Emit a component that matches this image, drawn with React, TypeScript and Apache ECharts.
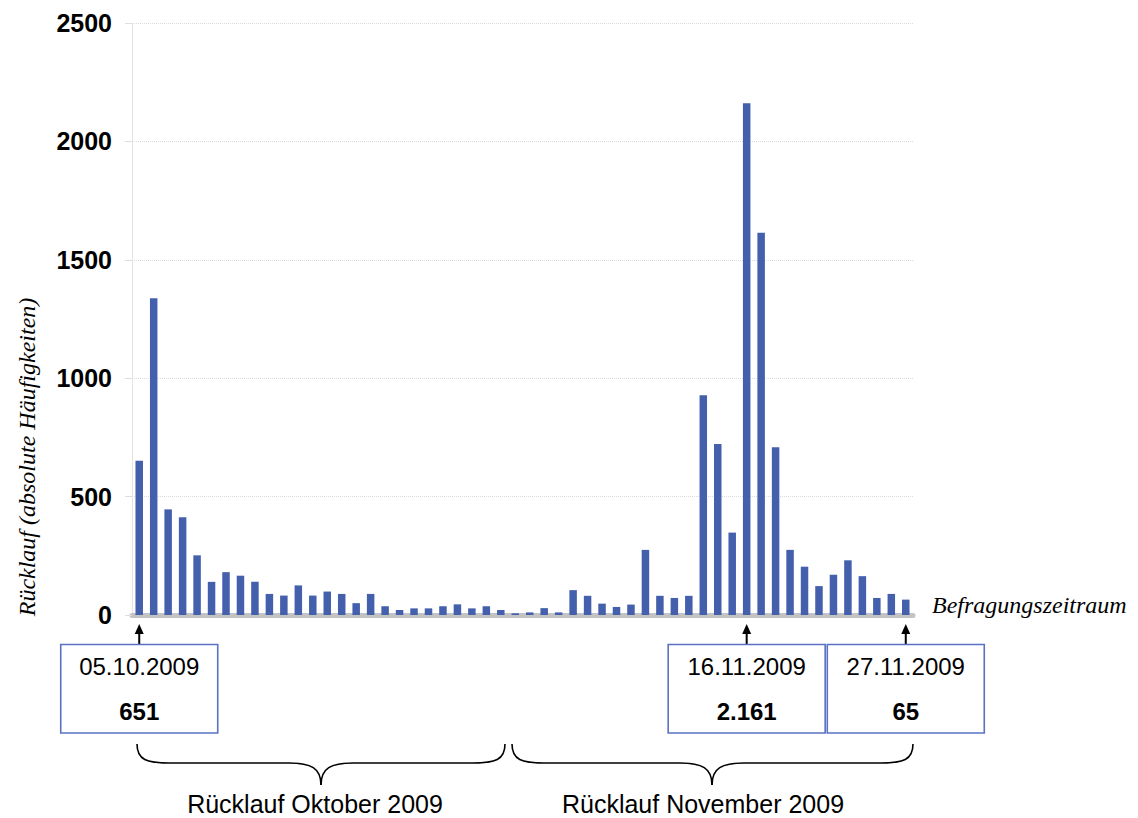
import React, { useEffect, useRef } from "react";
import * as echarts from "echarts";

const octoberDates = [
  "05.10.2009", "06.10.2009", "07.10.2009", "08.10.2009", "09.10.2009", "10.10.2009", "11.10.2009",
  "12.10.2009", "13.10.2009", "14.10.2009", "15.10.2009", "16.10.2009", "17.10.2009", "18.10.2009",
  "19.10.2009", "20.10.2009", "21.10.2009", "22.10.2009", "23.10.2009", "24.10.2009", "25.10.2009",
  "26.10.2009", "27.10.2009", "28.10.2009", "29.10.2009", "30.10.2009", "31.10.2009",
];
const novemberDates = [
  "01.11.2009", "02.11.2009", "03.11.2009", "04.11.2009", "05.11.2009", "06.11.2009", "07.11.2009",
  "08.11.2009", "09.11.2009", "10.11.2009", "11.11.2009", "12.11.2009", "13.11.2009", "14.11.2009",
  "15.11.2009", "16.11.2009", "17.11.2009", "18.11.2009", "19.11.2009", "20.11.2009", "21.11.2009",
  "22.11.2009", "23.11.2009", "24.11.2009", "25.11.2009", "26.11.2009", "27.11.2009",
];
const octoberValues = [
  651, 1338, 446, 413, 252, 140, 181, 166, 140, 89, 82, 125, 82, 99,
  89, 50, 89, 37, 21, 28, 28, 37, 45, 28, 37, 21, 7,
];
const novemberValues = [
  11, 29, 11, 105, 81, 48, 34, 44, 275, 81, 72, 81, 928, 722,
  348, 2161, 1614, 708, 275, 204, 122, 170, 231, 164, 72, 89, 65,
];
const yMin = 0;
const yMax = 2500;
const yInterval = 500;
const highlightDates = ["05.10.2009", "16.11.2009", "27.11.2009"];
const periodLabels = ["Rücklauf Oktober 2009", "Rücklauf November 2009"];
const yAxisTitle = "Rücklauf (absolute Häufigkeiten)";
const xAxisTitle = "Befragungszeitraum";

const categories = [...octoberDates, ...novemberDates];
const values = [...octoberValues, ...novemberValues];

const SANS = '"Liberation Sans", Arial, sans-serif';
const SERIF = '"Liberation Serif", "Times New Roman", serif';

function fmt(n: number): string {
  return String(n).replace(/\B(?=(\d{3})+(?!\d))/g, ".");
}

function brace(x0: number, x1: number, xt: number): any[] {
  const yTop = 744;
  const yMid = 763;
  const yTip = 785;
  const st = { stroke: "#000", lineWidth: 1.6, fill: "none" };
  return [
    { type: "bezierCurve", shape: { x1: x0, y1: yTop, cpx1: x0, cpy1: yMid - 3, cpx2: x0 + 10, cpy2: yMid, x2: x0 + 32, y2: yMid }, style: st },
    { type: "line", shape: { x1: x0 + 32, y1: yMid, x2: xt - 32, y2: yMid }, style: st },
    { type: "bezierCurve", shape: { x1: xt - 32, y1: yMid, cpx1: xt - 10, cpy1: yMid, cpx2: xt, cpy2: yMid + 5, x2: xt, y2: yTip }, style: st },
    { type: "bezierCurve", shape: { x1: xt, y1: yTip, cpx1: xt, cpy1: yMid + 5, cpx2: xt + 10, cpy2: yMid, x2: xt + 32, y2: yMid }, style: st },
    { type: "line", shape: { x1: xt + 32, y1: yMid, x2: x1 - 32, y2: yMid }, style: st },
    { type: "bezierCurve", shape: { x1: x1 - 32, y1: yMid, cpx1: x1 - 10, cpy1: yMid, cpx2: x1, cpy2: yMid - 3, x2: x1, y2: yTop }, style: st },
  ];
}

function text(x: number, y: number, t: string, font: string, align = "center", rotation = 0): any {
  return {
    type: "text",
    x,
    y,
    rotation,
    style: { text: t, font, fill: "#000", align, textAlign: align, verticalAlign: "middle", textVerticalAlign: "middle" },
  };
}

export default function App() {
  const ref = useRef<HTMLDivElement>(null);

  useEffect(() => {
    if (!ref.current) return;
    const chart = echarts.init(ref.current, undefined, { renderer: "svg" });
    chart.setOption({
      animation: false,
      backgroundColor: "#fff",
      grid: { left: 132, right: 225, top: 23, bottom: 203, containLabel: false },
      xAxis: {
        type: "category",
        data: categories,
        boundaryGap: true,
        offset: 2.5,
        axisLabel: { show: false },
        axisTick: { show: false },
        axisLine: { show: true, lineStyle: { color: "#c3c3c3", width: 5 } },
        splitLine: { show: false },
      },
      yAxis: {
        type: "value",
        min: yMin,
        max: yMax,
        interval: yInterval,
        axisLabel: {
          fontSize: 25,
          fontWeight: "bold",
          color: "#000",
          fontFamily: SANS,
          margin: 20,
          formatter: (v: number) => String(v),
        },
        axisLine: { show: true, lineStyle: { color: "#dedede", type: "dotted" } },
        axisTick: { show: true, length: 7, lineStyle: { color: "#dedede" } },
        splitLine: { show: true, lineStyle: { color: "#dcdcdc", type: "dotted" } },
      },
      series: [
        {
          type: "bar",
          data: values,
          barWidth: 7.5,
          itemStyle: { color: "#4460AD" },
        },
      ],
    });

    const graphics: any[] = [];
    highlightDates.forEach((d) => {
      const idx = categories.indexOf(d);
      const cx = chart.convertToPixel({ xAxisIndex: 0 }, d) as number;
      graphics.push({ type: "line", shape: { x1: cx, y1: 644, x2: cx, y2: 632 }, style: { stroke: "#000", lineWidth: 2 } });
      graphics.push({ type: "polygon", shape: { points: [[cx, 624], [cx - 4.5, 634], [cx + 4.5, 634]] }, style: { fill: "#000" } });
      graphics.push({ type: "rect", shape: { x: cx - 78.5, y: 644.5, width: 157, height: 88.5 }, style: { fill: "#fff", stroke: "#5a72c4", lineWidth: 1.6 } });
      graphics.push(text(cx, 666, d, `24px ${SANS}`));
      graphics.push(text(cx, 711, fmt(values[idx]), `bold 24px ${SANS}`));
    });
    graphics.push(...brace(137, 505, 321));
    graphics.push(...brace(512, 913, 712));
    graphics.push(text(315, 804, periodLabels[0], `25px ${SANS}`));
    graphics.push(text(703, 804, periodLabels[1], `25px ${SANS}`));
    graphics.push(text(27, 457, yAxisTitle, `italic 24px ${SERIF}`, "center", Math.PI / 2));
    graphics.push(text(932, 605, xAxisTitle, `italic 24px ${SERIF}`, "left"));

    chart.setOption({ graphic: graphics });

    return () => {
      chart.dispose();
    };
  }, []);

  return <div ref={ref} style={{ position: "absolute", left: 0, top: 0, width: 1138, height: 818 }} />;
}
